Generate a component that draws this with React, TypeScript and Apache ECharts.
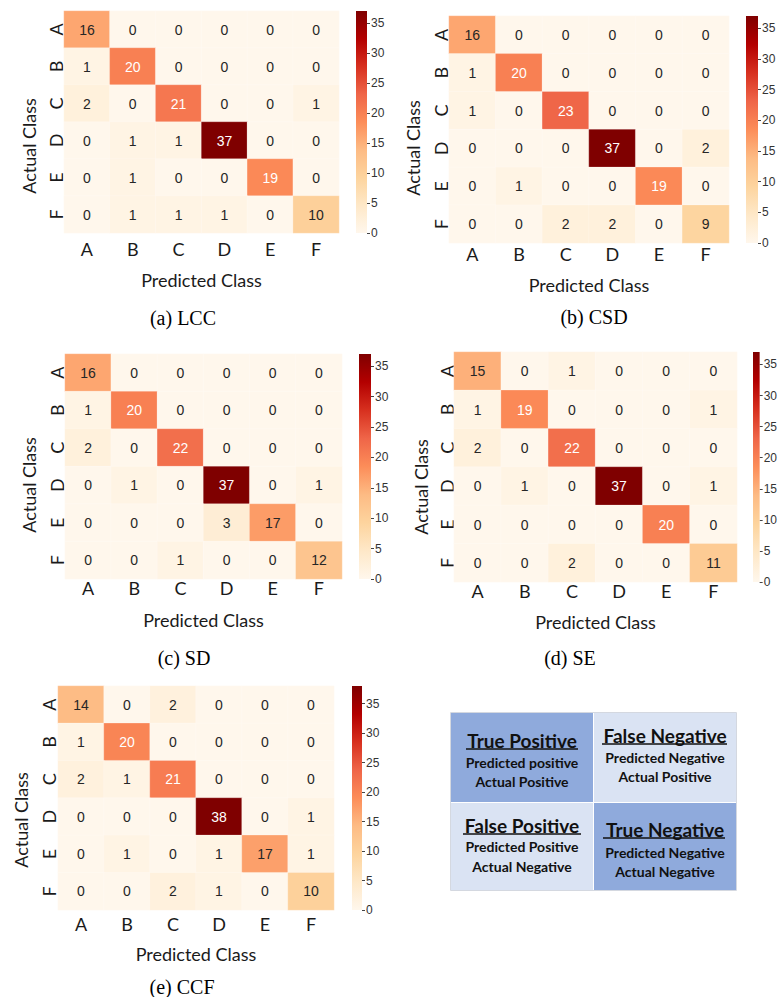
import React, { useEffect, useRef } from 'react';
import * as echarts from 'echarts';

// Class labels shared by every confusion matrix (rows = actual, columns = predicted)
const CLASSES = ['A', 'B', 'C', 'D', 'E', 'F'];

const LCC = [
  [16, 0, 0, 0, 0, 0],
  [1, 20, 0, 0, 0, 0],
  [2, 0, 21, 0, 0, 1],
  [0, 1, 1, 37, 0, 0],
  [0, 1, 0, 0, 19, 0],
  [0, 1, 1, 1, 0, 10],
];
const CSD = [
  [16, 0, 0, 0, 0, 0],
  [1, 20, 0, 0, 0, 0],
  [1, 0, 23, 0, 0, 0],
  [0, 0, 0, 37, 0, 2],
  [0, 1, 0, 0, 19, 0],
  [0, 0, 2, 2, 0, 9],
];
const SD = [
  [16, 0, 0, 0, 0, 0],
  [1, 20, 0, 0, 0, 0],
  [2, 0, 22, 0, 0, 0],
  [0, 1, 0, 37, 0, 1],
  [0, 0, 0, 3, 17, 0],
  [0, 0, 1, 0, 0, 12],
];
const SE = [
  [15, 0, 1, 0, 0, 0],
  [1, 19, 0, 0, 0, 1],
  [2, 0, 22, 0, 0, 0],
  [0, 1, 0, 37, 0, 1],
  [0, 0, 0, 0, 20, 0],
  [0, 0, 2, 0, 0, 11],
];
const CCF = [
  [14, 0, 2, 0, 0, 0],
  [1, 20, 0, 0, 0, 0],
  [2, 1, 21, 0, 0, 0],
  [0, 0, 0, 38, 0, 1],
  [0, 1, 0, 1, 17, 1],
  [0, 0, 2, 1, 0, 10],
];

const COLORBAR_TICKS = [0, 5, 10, 15, 20, 25, 30, 35];

// ColorBrewer OrRd
const OR_RD = ['#fff7ec', '#fee8c8', '#fdd49e', '#fdbb84', '#fc8d59', '#ef6548', '#d7301f', '#b30000', '#7f0000'];

// Layout of each panel on the page
const PANELS = [
  { caption: '(a) LCC', matrix: LCC, grid: { left: 64, top: 11, width: 275, height: 222 }, bar: { left: 356, width: 11 },
    yLabelMargin: -1, yTitleAt: [29, 146], xLabelMargin: 7, xNameGap: 38, captionAt: [183, 318] },
  { caption: '(b) CSD', matrix: CSD, grid: { left: 449, top: 16, width: 280, height: 227 }, bar: { left: 746, width: 12 },
    yLabelMargin: -1, yTitleAt: [413, 148], xLabelMargin: 2, xNameGap: 33, captionAt: [594, 317] },
  { caption: '(c) SD', matrix: SD, grid: { left: 65, top: 354, width: 277, height: 225 }, bar: { left: 359, width: 12 },
    yLabelMargin: -1, yTitleAt: [29, 485], xLabelMargin: 0, xNameGap: 32, captionAt: [184, 658] },
  { caption: '(d) SE', matrix: SE, grid: { left: 454, top: 352, width: 283, height: 230 }, bar: { left: 753, width: 12 },
    yLabelMargin: -2, yTitleAt: [421, 487], xLabelMargin: 0, xNameGap: 31, captionAt: [570, 658] },
  { caption: '(e) CCF', matrix: CCF, grid: { left: 58, top: 686, width: 276, height: 224 }, bar: { left: 352, width: 10 },
    yLabelMargin: 0, yTitleAt: [21, 820], xLabelMargin: 5, xNameGap: 35, captionAt: [182, 987] },
];

const AXIS_FONT = 'Lato';
const NUM_FONT = 'Liberation Sans';
const CAPTION_FONT = '20px "Liberation Serif", "Times New Roman", serif';

function buildOption() {
  const grids: any[] = [];
  const xAxes: any[] = [];
  const yAxes: any[] = [];
  const series: any[] = [];
  const visualMaps: any[] = [];
  const graphics: any[] = [];

  const gradientStops = OR_RD.map((c, i) => ({ offset: i / (OR_RD.length - 1), color: c }));

  PANELS.forEach((p, i) => {
    const max = Math.max(...p.matrix.flat());
    grids[i] = { ...p.grid, containLabel: false, show: false };
    xAxes[i] = {
      gridIndex: i, type: 'category', data: CLASSES, position: 'bottom',
      axisLine: { show: false }, axisTick: { show: false }, splitLine: { show: false },
      axisLabel: { margin: p.xLabelMargin, fontFamily: AXIS_FONT, fontSize: 18, color: '#1a1a1a' },
      name: 'Predicted Class', nameLocation: 'middle', nameGap: p.xNameGap,
      nameTextStyle: { fontFamily: AXIS_FONT, fontSize: 18, color: '#1a1a1a' },
    };
    yAxes[i] = {
      gridIndex: i, type: 'category', data: CLASSES, inverse: true, position: 'left',
      axisLine: { show: false }, axisTick: { show: false }, splitLine: { show: false },
      axisLabel: { rotate: 90, margin: p.yLabelMargin, fontFamily: AXIS_FONT, fontSize: 18, color: '#1a1a1a' },
    };
    const data: any[] = [];
    p.matrix.forEach((row, r) => {
      row.forEach((v, c) => {
        data.push({
          value: [c, r, v],
          label: { color: v / max >= 0.48 ? '#ffffff' : '#262626' },
        });
      });
    });
    series[i] = {
      type: 'heatmap', xAxisIndex: i, yAxisIndex: i, data,
      label: { show: true, fontFamily: NUM_FONT, fontSize: 14, formatter: (d: any) => String(d.value[2]) },
      itemStyle: { borderColor: 'rgba(255,255,255,0.45)', borderWidth: 0.5 },
      emphasis: { disabled: true },
    };
    visualMaps.push({
      type: 'continuous', show: false, seriesIndex: i, dimension: 2,
      min: 0, max, inRange: { color: OR_RD },
    });

    // colour bar: a single bar spanning 0..max on its own value axis
    const ci = PANELS.length + i;
    grids[ci] = { left: p.bar.left, top: p.grid.top, width: p.bar.width, height: p.grid.height, show: false };
    xAxes[ci] = { gridIndex: ci, type: 'category', data: ['scale'], show: false };
    yAxes[ci] = {
      gridIndex: ci, type: 'value', min: 0, max, position: 'right',
      axisLine: { show: false }, splitLine: { show: false },
      axisTick: { show: true, length: 3, lineStyle: { color: '#444', width: 1 }, customValues: COLORBAR_TICKS },
      axisLabel: { margin: 4, fontFamily: NUM_FONT, fontSize: 12, color: '#333', customValues: COLORBAR_TICKS },
    };
    series[ci] = {
      type: 'bar', xAxisIndex: ci, yAxisIndex: ci, data: [max], barWidth: '100%',
      itemStyle: { color: new echarts.graphic.LinearGradient(0, 1, 0, 0, gradientStops) },
      emphasis: { disabled: true }, silent: true,
    };

    // rotated y title
    graphics.push({
      type: 'text', x: p.yTitleAt[0], y: p.yTitleAt[1], rotation: Math.PI / 2,
      style: { text: 'Actual Class', align: 'center', verticalAlign: 'middle', fontFamily: AXIS_FONT, fontSize: 18, fill: '#1a1a1a' },
    });
    graphics.push({
      type: 'text', x: p.captionAt[0], y: p.captionAt[1],
      style: { text: p.caption, align: 'center', verticalAlign: 'middle', font: CAPTION_FONT, fill: '#000' },
    });
  });

  // explanatory key for the four outcome types
  const DARK = '#8faadc';
  const LIGHT = '#dae3f3';
  const INK = '#111111';
  const cells = [
    { x: 451, y: 713, w: 142, h: 89, fill: DARK, title: 'True Positive', l1: 'Predicted positive', l2: 'Actual Positive',
      ty: 740, y1: 762, y2: 781, ul: [466, 578, 749] },
    { x: 594, y: 713, w: 142, h: 89, fill: LIGHT, title: 'False Negative', l1: 'Predicted Negative', l2: 'Actual Positive',
      ty: 735, y1: 757, y2: 776, ul: [602, 727, 744] },
    { x: 451, y: 803, w: 142, h: 87, fill: LIGHT, title: 'False Positive', l1: 'Predicted Positive', l2: 'Actual Negative',
      ty: 825, y1: 846, y2: 866, ul: [463, 581, 834] },
    { x: 594, y: 803, w: 142, h: 87, fill: DARK, title: 'True Negative', l1: 'Predicted Negative', l2: 'Actual Negative',
      ty: 829, y1: 852, y2: 871, ul: [603, 725, 838] },
  ];
  graphics.push({
    type: 'rect', shape: { x: 450.5, y: 712.5, width: 286, height: 178 },
    style: { fill: '#ffffff', stroke: '#d4d8e0', lineWidth: 1 },
  });
  cells.forEach((c) => {
    const cx = c.x + c.w / 2;
    graphics.push({ type: 'rect', shape: { x: c.x, y: c.y, width: c.w, height: c.h }, style: { fill: c.fill } });
    graphics.push({
      type: 'text', x: cx, y: c.ty,
      style: { text: c.title, align: 'center', verticalAlign: 'middle', fontFamily: AXIS_FONT, fontWeight: 'bold', fontSize: 19, fill: INK },
    });
    graphics.push({
      type: 'line', shape: { x1: c.ul[0], y1: c.ul[2], x2: c.ul[1], y2: c.ul[2] },
      style: { stroke: INK, lineWidth: 1.5 },
    });
    graphics.push({
      type: 'text', x: cx, y: c.y1,
      style: { text: c.l1, align: 'center', verticalAlign: 'middle', fontFamily: AXIS_FONT, fontWeight: 'bold', fontSize: 14, fill: INK },
    });
    graphics.push({
      type: 'text', x: cx, y: c.y2,
      style: { text: c.l2, align: 'center', verticalAlign: 'middle', fontFamily: AXIS_FONT, fontWeight: 'bold', fontSize: 14, fill: INK },
    });
  });

  return {
    animation: false,
    backgroundColor: '#ffffff',
    grid: grids,
    xAxis: xAxes,
    yAxis: yAxes,
    visualMap: visualMaps,
    series,
    graphic: graphics,
  };
}

export default function App() {
  const ref = useRef<HTMLDivElement>(null);
  useEffect(() => {
    if (!ref.current) return;
    const chart = echarts.init(ref.current, undefined, { renderer: 'svg' });
    chart.setOption(buildOption());
    return () => chart.dispose();
  }, []);
  return (
    <div
      ref={ref}
      style={{ position: 'absolute', left: 0, top: 0, width: 780, height: 997, background: '#fff' }}
    />
  );
}
